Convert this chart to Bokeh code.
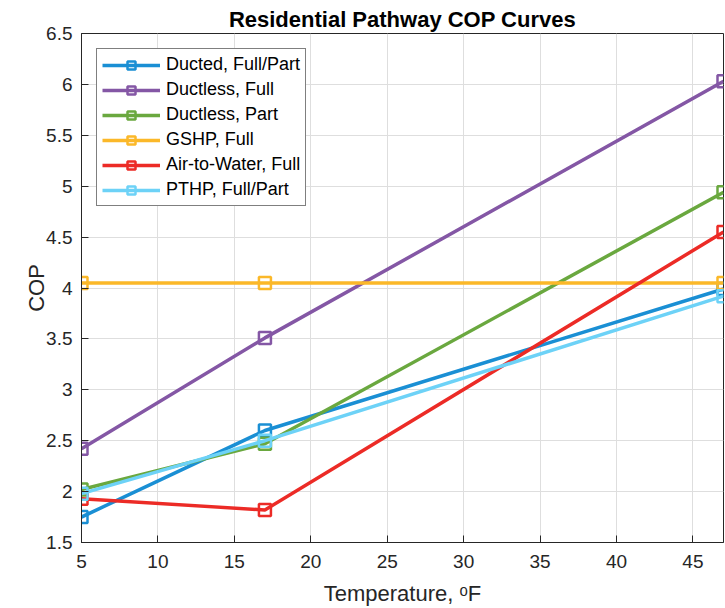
from bokeh.plotting import figure
from bokeh.models import Range1d, FixedTicker, NumeralTickFormatter, Legend, LegendItem
from bokeh.embed import file_html
from bokeh.resources import INLINE

temps = [5, 17, 47]
ducted = [1.75, 2.60, 3.99]
ductless_full = [2.42, 3.51, 6.03]
ductless_part = [2.02, 2.47, 4.94]
gshp = [4.05, 4.05, 4.05]
air_to_water = [1.93, 1.82, 4.55]
pthp = [1.98, 2.50, 3.92]

series_names = ["Ducted, Full/Part", "Ductless, Full", "Ductless, Part",
                "GSHP, Full", "Air-to-Water, Full", "PTHP, Full/Part"]
series_values = [ducted, ductless_full, ductless_part, gshp, air_to_water, pthp]
colors = ["#1a8fd4", "#8457a5", "#6aa83f", "#fbb829", "#ec2b26", "#6dd2f7"]

x_ticks = [5, 10, 15, 20, 25, 30, 35, 40, 45]
y_ticks = [1.5, 2, 2.5, 3, 3.5, 4, 4.5, 5, 5.5, 6, 6.5]

FONT = "Liberation Sans"
TXT = "#262626"

p = figure(width=724, height=608, output_backend="svg", toolbar_location=None,
           x_range=Range1d(5, 47), y_range=Range1d(1.5, 6.5),
           min_border_left=81, min_border_right=1, min_border_top=33, min_border_bottom=65,
           title="Residential Pathway COP Curves")

p.title.align = "center"
p.title.text_font = FONT
p.title.text_font_size = "22px"
p.title.text_font_style = "bold"
p.title.text_color = "black"
p.title.standoff = 3

p.outline_line_color = TXT
p.outline_line_width = 1
p.outline_line_alpha = 1

for ax in (p.xaxis[0], p.yaxis[0]):
    ax.major_tick_in = 7
    ax.major_tick_out = 0
    ax.minor_tick_in = 0
    ax.minor_tick_out = 0
    ax.axis_line_color = TXT
    ax.major_tick_line_color = TXT
    ax.major_label_text_font = FONT
    ax.major_label_text_font_size = "19px"
    ax.major_label_text_color = TXT
    ax.axis_label_text_font = FONT
    ax.axis_label_text_font_size = "22px"
    ax.axis_label_text_font_style = "normal"
    ax.axis_label_text_color = TXT

p.xaxis.ticker = FixedTicker(ticks=x_ticks)
p.yaxis.ticker = FixedTicker(ticks=y_ticks)
p.yaxis.formatter = NumeralTickFormatter(format="0.[0]")
p.xaxis.axis_label = "Temperature, \u1d52F"
p.yaxis.axis_label = "COP"
p.xaxis.major_label_standoff = 12
p.yaxis.major_label_standoff = 9
p.xaxis.axis_label_standoff = 10
p.yaxis.axis_label_standoff = -6

p.xgrid.grid_line_color = "#dedede"
p.ygrid.grid_line_color = "#dedede"
p.xgrid.grid_line_width = 1
p.ygrid.grid_line_width = 1

items = []
for name, vals, c in zip(series_names, series_values, colors):
    r1 = p.line(temps, vals, line_color=c, line_width=3.5)
    r2 = p.scatter(temps, vals, marker="square", size=12, line_color=c,
                   line_width=2.5, fill_color=None)
    items.append(LegendItem(label=name, renderers=[r1, r2]))

legend = Legend(items=items, location=(15, 336))
legend.label_text_font = FONT
legend.label_text_font_size = "18px"
legend.label_text_color = "black"
legend.glyph_width = 58
legend.glyph_height = 20
legend.label_height = 20
legend.spacing = 4
legend.padding = 5
legend.margin = 0
legend.label_standoff = 6
legend.border_line_color = "black"
legend.border_line_width = 1
legend.background_fill_alpha = 1
p.add_layout(legend, "center")

open("out.html", "w").write(file_html(p, INLINE))
